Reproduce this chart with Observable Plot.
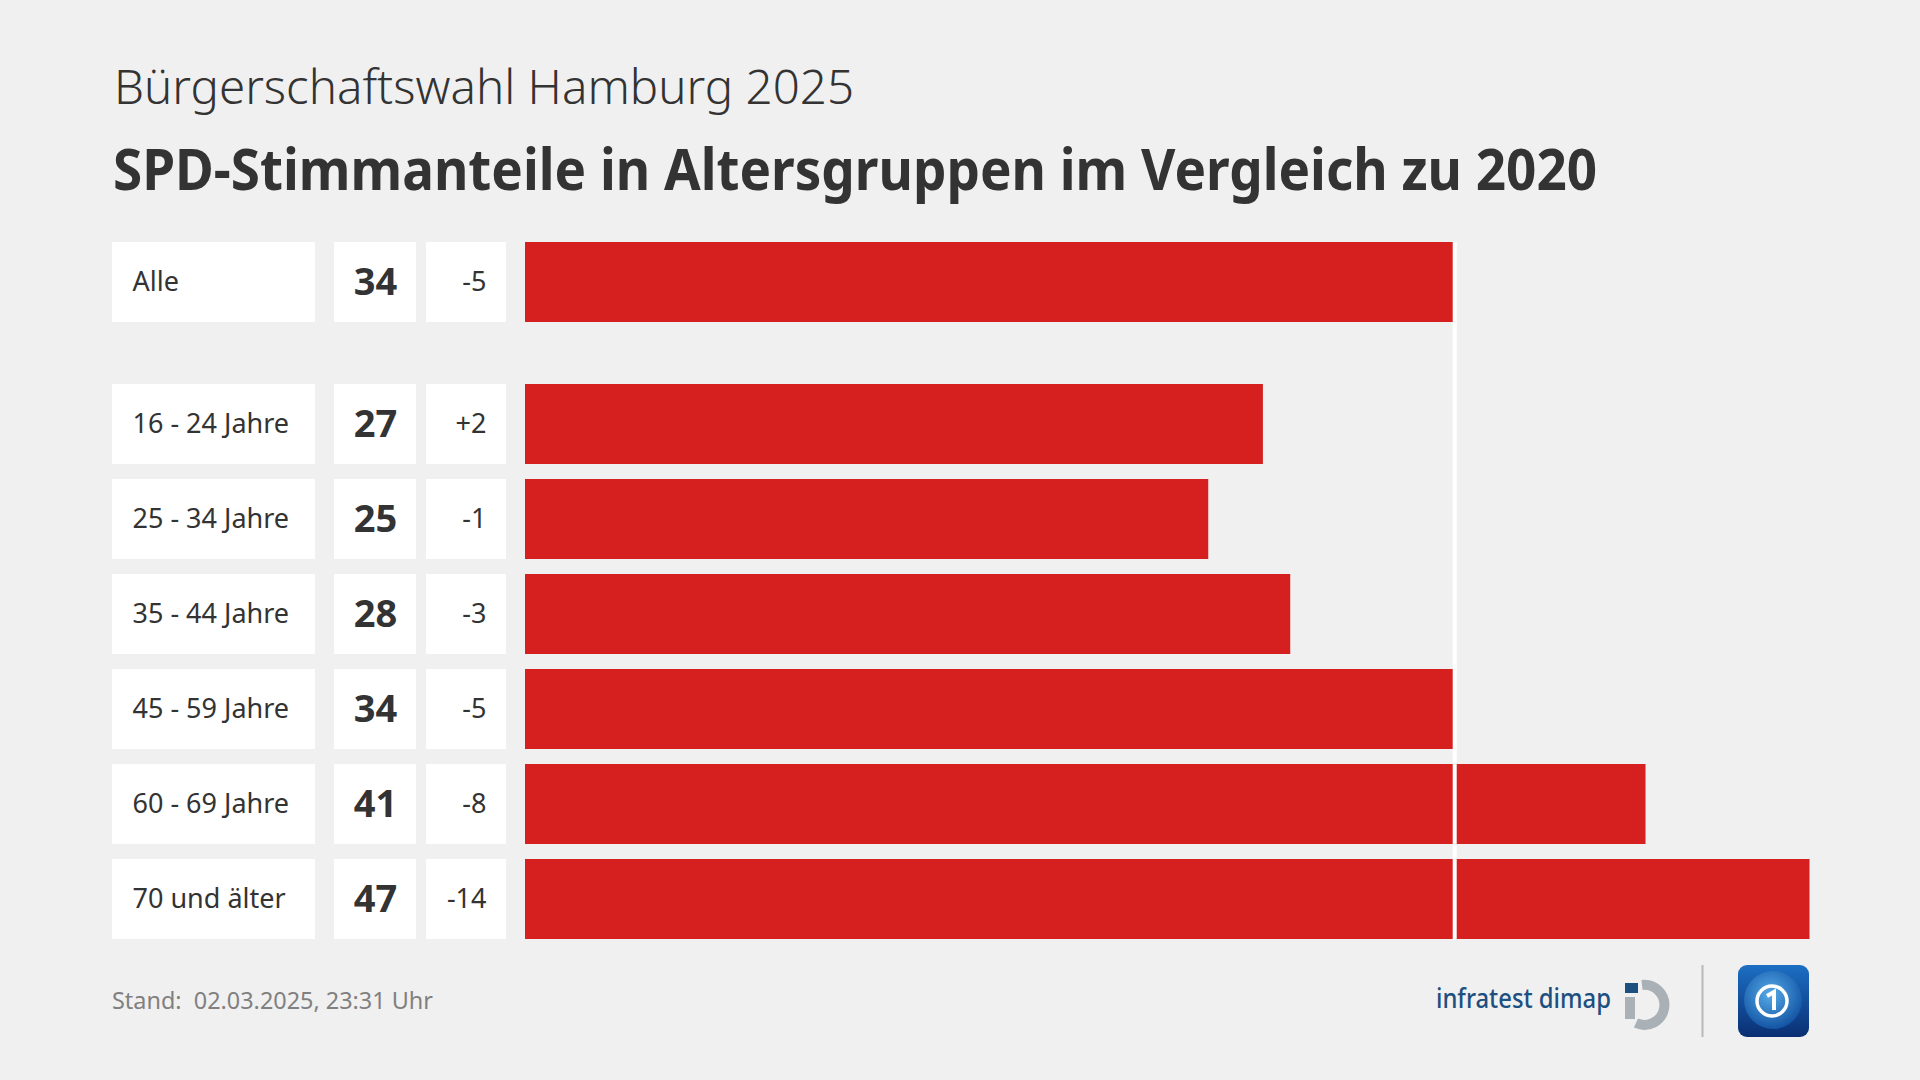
<!DOCTYPE html>
<html>
<head>
<meta charset="utf-8">
<script src="https://cdn.jsdelivr.net/npm/d3@7"></script>
<script src="https://cdn.jsdelivr.net/npm/@observablehq/plot@0.6"></script>
<style>
  html, body { margin: 0; padding: 0; background: #f0f0f0; }
  #root { position: relative; width: 1920px; height: 1080px; background: #f0f0f0; overflow: hidden; font-family: "Noto Sans", sans-serif; }
  .abs { position: absolute; left: 0; top: 0; }
  #table { position: absolute; left: 112px; top: 242px; }
  .row { display: flex; align-items: flex-start; }
  .row > * { flex-shrink: 0; }
  .gap19 { width: 19px; flex-shrink: 0; }
  .gap10 { width: 10px; flex-shrink: 0; }
</style>
</head>
<body>
<div id="root">
  <svg class="abs" width="1920" height="240">
    <text x="114" y="104" font-family="Noto Sans" font-size="47" font-weight="300" fill="#333333" textLength="740" lengthAdjust="spacingAndGlyphs">Bürgerschaftswahl Hamburg 2025</text>
    <text x="113" y="190" font-family="Noto Sans" font-size="57" font-weight="700" fill="#333333" textLength="1484" lengthAdjust="spacingAndGlyphs">SPD-Stimmanteile in Altersgruppen im Vergleich zu 2020</text>
  </svg>
  <div id="table">
    <div class="row" id="rowA"></div>
    <div class="row" id="rowB"></div>
  </div>
  <svg class="abs" style="top:940px" width="1920" height="140">
    <defs>
      <linearGradient id="ts" x1="0" y1="0" x2="0" y2="1">
        <stop offset="0" stop-color="#1c6fc4"/>
        <stop offset="1" stop-color="#0a2f73"/>
      </linearGradient>
      <radialGradient id="globe" cx="0.45" cy="0.4" r="0.6">
        <stop offset="0" stop-color="#5fb4ef"/>
        <stop offset="1" stop-color="#1458a8"/>
      </radialGradient>
    </defs>
    <text x="112" y="69" font-family="Noto Sans" font-size="24" fill="#808080" textLength="321" lengthAdjust="spacingAndGlyphs" style="white-space:pre">Stand:  02.03.2025, 23:31 Uhr</text>
    <text x="1436" y="68" font-family="Noto Sans" font-size="27" font-weight="500" fill="#1d4f80" textLength="175" lengthAdjust="spacingAndGlyphs">infratest dimap</text>
    <rect x="1625" y="43" width="13" height="10" fill="#1d4f80"/>
    <path d="M1642,45 A20,20 0 1 1 1636,83" fill="none" stroke="#a9b0b6" stroke-width="10"/>
    <rect x="1625" y="57" width="10" height="22" fill="#a9b0b6"/>
    <line x1="1702.5" y1="25" x2="1702.5" y2="97" stroke="#b8b8b8" stroke-width="2"/>
    <rect x="1738" y="25" width="71" height="72" rx="9" fill="url(#ts)"/>
    <circle cx="1773" cy="60" r="29" fill="url(#globe)" opacity="0.9"/>
    <circle cx="1772" cy="61" r="15" fill="none" stroke="#ffffff" stroke-width="3.5"/>
    <path d="M1767,56 L1774,52 L1774,70" fill="none" stroke="#ffffff" stroke-width="4"/>
  </svg>
</div>
<script>
// ---- data ----
const groups = ["Alle", "16 - 24 Jahre", "25 - 34 Jahre", "35 - 44 Jahre", "45 - 59 Jahre", "60 - 69 Jahre", "70 und älter"];
const shares = [34, 27, 25, 28, 34, 41, 47];
const changes = [-5, 2, -1, -3, -5, -8, -14];
const totalLabel = "Alle";

// ---- table ----
const rows = groups.map((g, i) => ({group: g, share: shares[i], change: changes[i]}));
const fmtChange = d => (d > 0 ? "+" : "") + d;
const totalRows = rows.filter(d => d.group === totalLabel);
const ageRows = rows.filter(d => d.group !== totalLabel);
const reference = totalRows[0].share;

const RED = "#d61f1f";
const TXT = "#333333";
const FONT = "Noto Sans";

function yScale(data, total) {
  return total
    ? {domain: data.map(d => d.group), range: [0, 80], paddingInner: 0, paddingOuter: 0, axis: null}
    : {domain: data.map(d => d.group), paddingInner: 0.162, paddingOuter: 0, axis: null};
}
function base(width, height) {
  return {width, height, marginTop: 0, marginBottom: 0, marginLeft: 0, marginRight: 0,
          style: {background: "transparent", fontFamily: FONT, overflow: "visible"}};
}

function buildRow(data, total, height) {
  const y = yScale(data, total);
  const label = Plot.plot({...base(203, height), y, x: {axis: null},
    marks: [
      Plot.cell(data, {y: "group", fill: "white"}),
      Plot.text(data, {y: "group", text: "group", frameAnchor: "left", dx: 20, fontSize: 27, fill: TXT, textAnchor: "start"})
    ]});
  const value = Plot.plot({...base(82, height), y, x: {axis: null},
    marks: [
      Plot.cell(data, {y: "group", fill: "white"}),
      Plot.text(data, {y: "group", text: "share", fontSize: 38, fontWeight: 700, fill: TXT})
    ]});
  const change = Plot.plot({...base(80, height), y, x: {axis: null},
    marks: [
      Plot.cell(data, {y: "group", fill: "white"}),
      Plot.text(data, {y: "group", text: d => fmtChange(d.change), frameAnchor: "right", dx: -20, fontSize: 27, fill: TXT, textAnchor: "end"})
    ]});
  const bars = Plot.plot({...base(1395, height), marginRight: 110.5, y,
    x: {domain: [0, 47], axis: null},
    marks: [
      Plot.barX(data, {y: "group", x: "share", fill: RED, insetTop: 0, insetBottom: 0}),
      Plot.ruleX([reference], {stroke: "white", strokeWidth: 4})
    ]});
  const gap = c => { const d = document.createElement("div"); d.className = c; return d; };
  return [label, gap("gap19"), value, gap("gap10"), change, gap("gap19"), bars];
}

document.getElementById("rowA").append(...buildRow(totalRows, true, 141));
document.getElementById("rowB").append(...buildRow(ageRows, false, 557));
</script>
</body>
</html>
